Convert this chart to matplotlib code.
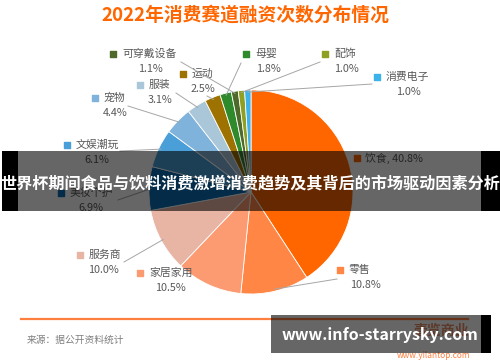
import numpy as np
import matplotlib.pyplot as plt
from matplotlib.patches import Rectangle

plt.rcParams['font.family'] = ['Noto Sans CJK SC', 'DejaVu Sans']

# 数据
categories = ['饮食', '零售', '家居家用', '服务商', '美妆个护', '文娱潮玩', '宠物',
              '服装', '运动', '母婴', '可穿戴设备', '配饰', '消费电子']
shares = [40.8, 10.8, 10.5, 10.0, 6.9, 6.1, 4.4, 3.1, 2.5, 1.8, 1.1, 1.0, 1.0]
colors = ['#FF6600', '#FF8645', '#FC9B72', '#E8B5A5', '#0A6EB8', '#4A9FD8', '#80B3DB',
          '#AAC6D9', '#9E7200', '#2F8A2C', '#4E6A2A', '#8E9F22', '#3CB2EA']

title = '2022年消费赛道融资次数分布情况'
banner = '世界杯期间食品与饮料消费激增消费趋势及其背后的市场驱动因素分析'
source = '来源：据公开资料统计'
site = 'www.info-starrysky.com'

W, H = 500, 362
fig = plt.figure(figsize=(5, 3.62), dpi=100)
ax = fig.add_axes([0, 0, 1, 1])


def Y(y):
    return H - y


# 饼图
cx, cy, r = 251, 192, 102
wedges, _ = ax.pie(shares, colors=colors, startangle=90, counterclock=False,
                   center=(cx, Y(cy)), radius=r, frame=True,
                   wedgeprops=dict(edgecolor='white', linewidth=0.6))
ax.set_xlim(0, W)
ax.set_ylim(0, H)
ax.set_aspect('equal')
ax.axis('off')

# 标签位置（标记 x, y, 百分比中心 x）
label_pos = {
    '饮食': (357, 158, None),
    '零售': (340, 270, 365),
    '家居家用': (140, 273, 170),
    '服务商': (80, 255, 103),
    '美妆个护': (61, 193, 91),
    '文娱潮玩': (67, 145, 97),
    '宠物': (95, 98, 115),
    '服装': (140, 85, 160),
    '运动': (183, 74, 203),
    '母婴': (246, 54, 268),
    '可穿戴设备': (113, 54, 150),
    '配饰': (325, 54, 346),
    '消费电子': (377, 77, 408),
}
line_start = {
    '零售': (337, 279),
    '服务商': (124, 262),
    '美妆个护': (118, 200),
    '文娱潮玩': (120, 151),
    '宠物': (128, 106),
    '服装': (176, 93),
    '运动': (207, 96),
    '母婴': (241, 63),
    '可穿戴设备': (181, 62),
    '配饰': (320, 62),
    '消费电子': (372, 84),
}
txt = '#595959'
for w, cat, val in zip(wedges, categories, shares):
    mx, my, tx = label_pos[cat]
    ax.scatter(mx, Y(my), marker='s', s=14, color=w.get_facecolor(), zorder=5)
    if tx is None:
        ax.text(mx + 8, Y(my), f'{cat}, {val}%', fontsize=7.8, color=txt,
                va='center', ha='left')
    else:
        ax.text(mx + 9, Y(my), cat, fontsize=7.8, color=txt, va='center', ha='left')
        ax.text(tx, Y(my + 15), f'{val}%', fontsize=7.8, color=txt,
                va='center', ha='center')
    if cat in line_start:
        ang = np.deg2rad((w.theta1 + w.theta2) / 2)
        ex = cx + r * 0.98 * np.cos(ang)
        ey = Y(cy) + r * 0.98 * np.sin(ang)
        sx, sy = line_start[cat]
        ax.plot([sx, ex], [Y(sy), ey], color='#A6A6A6', lw=0.7, zorder=4)

# 标题
ax.text(245, Y(15), title, fontsize=13.5, fontweight='bold', color='#FF6600',
        ha='center', va='center')

# 底部
ax.plot([21, 468], [Y(319), Y(319)], color='#FF7F3F', lw=1.6)
ax.text(27, Y(340), source, fontsize=7, color='#7F7F7F', ha='left', va='center')
ax.text(441, Y(331), '壹览商业', fontsize=10, color='#E07040', fontweight='bold',
        ha='center', va='center', alpha=0.8)
ax.text(434, Y(356), 'www.yilantop.com', fontsize=6, color='#FF7F3F',
        ha='center', va='center')

# 遮罩横幅
ax.add_patch(Rectangle((18, Y(211)), 463, 60, color='black', alpha=0.6, lw=0, zorder=10))
ax.add_patch(Rectangle((2, Y(211)), 16, 60, color='black', lw=0, zorder=10))
ax.add_patch(Rectangle((481, Y(211)), 19, 60, color='black', lw=0, zorder=10))
ax.text(250, Y(183), banner, fontsize=11.6, fontweight='bold', color='white',
        ha='center', va='center', zorder=11)

ax.add_patch(Rectangle((271, Y(353)), 210, 38, color='black', alpha=0.6, lw=0, zorder=10))
ax.add_patch(Rectangle((481, Y(353)), 10, 38, color='black', lw=0, zorder=10))
ax.text(380, Y(335), site, fontsize=11.5, fontweight='bold', color='white',
        ha='center', va='center', zorder=11)

fig.savefig('out.png', dpi=100, facecolor='white')
